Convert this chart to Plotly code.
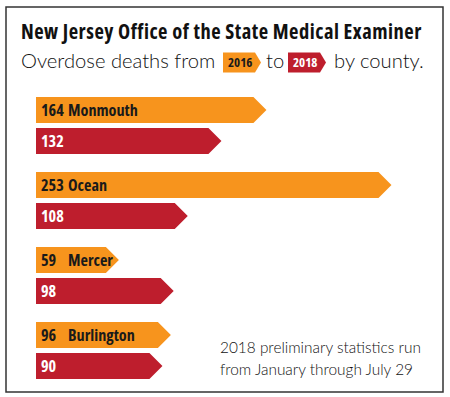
import plotly.graph_objects as go

# ---- data ----
counties = ["Monmouth", "Ocean", "Mercer", "Burlington"]
deaths_2016 = [164, 253, 59, 96]
deaths_2018 = [132, 108, 98, 90]
years = ["2016", "2018"]
title_text = "New Jersey Office of the State Medical Examiner"
subtitle_parts = ["Overdose deaths from", "to", "by county."]
footnote = ["2018 preliminary statistics run", "from January through July 29"]

# ---- style / layout ----
ORANGE = "#F7941D"
RED = "#BE1E2D"
W, H = 450, 397
X0 = 36          # pixel of bar base
PXU = 1.405      # pixels per death
TIP = 13 / PXU   # arrow tip depth in data units
HALF = 13        # half bar height (y units = px)
GROUP0, GSTEP, PAIR = 110, 75, 31
BOLD = "Open Sans, Roboto, sans-serif"
LIGHT = "Lato, Open Sans, sans-serif"


def styled(t, css):
    return f"<span style='{css}'>{t}</span>"


COND = "font-stretch:condensed"


def px(x):
    return x / W


def py(y):
    return 1 - y / H


def arrow_xy(v, yc):
    xs = [0, v - TIP, v, v - TIP, 0, 0]
    ys = [yc - HALF, yc - HALF, yc, yc + HALF, yc + HALF, yc - HALF]
    return xs, ys


fig = go.Figure()
annotations = []

for i, (name, a, b) in enumerate(zip(counties, deaths_2016, deaths_2018)):
    yc_a = GROUP0 + GSTEP * i
    yc_b = yc_a + PAIR
    for v, yc, col, tcol, lab in [(a, yc_a, ORANGE, "#1a1a1a", name), (b, yc_b, RED, "white", None)]:
        xs, ys = arrow_xy(v, yc)
        fig.add_trace(go.Scatter(x=xs, y=ys, fill="toself", fillcolor=col, mode="lines",
                                 line=dict(width=0, color=col), hoverinfo="skip", showlegend=False))
        annotations.append(dict(x=px(39), y=yc, xref="paper", yref="y", text=styled(str(v), COND),
                                showarrow=False, xanchor="left", yanchor="middle",
                                font=dict(family=BOLD, size=16.2, color=tcol, weight="bold")))
        if lab:
            annotations.append(dict(x=px(66), y=yc, xref="paper", yref="y", text=styled(lab, COND),
                                    showarrow=False, xanchor="left", yanchor="middle",
                                    font=dict(family=BOLD, size=16.2, color=tcol, weight="bold")))

# title and subtitle
annotations.append(dict(x=px(19), y=py(31), xref="paper", yref="paper",
                        text=styled(title_text, COND + ";letter-spacing:0.5px"),
                        showarrow=False, xanchor="left", yanchor="middle",
                        font=dict(family=BOLD, size=20.5, color="#111111", weight="bold")))
sub_x = [19, 264, 332]
for t, x in zip(subtitle_parts, sub_x):
    annotations.append(dict(x=px(x), y=py(60), xref="paper", yref="paper", text=t,
                            showarrow=False, xanchor="left", yanchor="middle",
                            font=dict(family=LIGHT, size=20.2, color="#111111", weight=300)))

shapes = []
icons = [(223, 255, 261, ORANGE, "#1a1a1a"), (288, 320, 326, RED, "white")]
for yr, (l, f, t, col, tcol) in zip(years, icons):
    top, bot, mid = 52.5, 72.5, 62.5
    pts = [(l, top), (f, top), (t, mid), (f, bot), (l, bot)]
    path = "M " + " L ".join(f"{px(x):.5f},{py(y):.5f}" for x, y in pts) + " Z"
    shapes.append(dict(type="path", xref="paper", yref="paper", path=path, fillcolor=col, line=dict(width=0)))
    annotations.append(dict(x=px((l + f) / 2 + 1), y=py(mid), xref="paper", yref="paper",
                            text=styled(yr, COND), showarrow=False, xanchor="center", yanchor="middle",
                            font=dict(family=BOLD, size=13, color=tcol, weight="bold")))

# footnote
for j, line in enumerate(footnote):
    annotations.append(dict(x=px(218), y=py(347 + 22 * j), xref="paper", yref="paper",
                            text=line, showarrow=False, xanchor="left", yanchor="middle",
                            font=dict(family=LIGHT, size=15.4, color="#111111", weight=300)))

# border
shapes.append(dict(type="rect", xref="paper", yref="paper", x0=px(6), x1=px(443), y0=py(392), y1=py(7),
                   line=dict(color="#333333", width=1.5), fillcolor="rgba(0,0,0,0)"))

fig.update_layout(
    width=W, height=H, margin=dict(l=0, r=0, t=0, b=0),
    paper_bgcolor="white", plot_bgcolor="white",
    xaxis=dict(range=[-X0 / PXU, (W - X0) / PXU], visible=False, fixedrange=True),
    yaxis=dict(range=[H, 0], visible=False, fixedrange=True),
    annotations=annotations, shapes=shapes,
)

fig.write_html("out.html", config={"displayModeBar": False},
               post_script="document.body.style.margin='0';")
